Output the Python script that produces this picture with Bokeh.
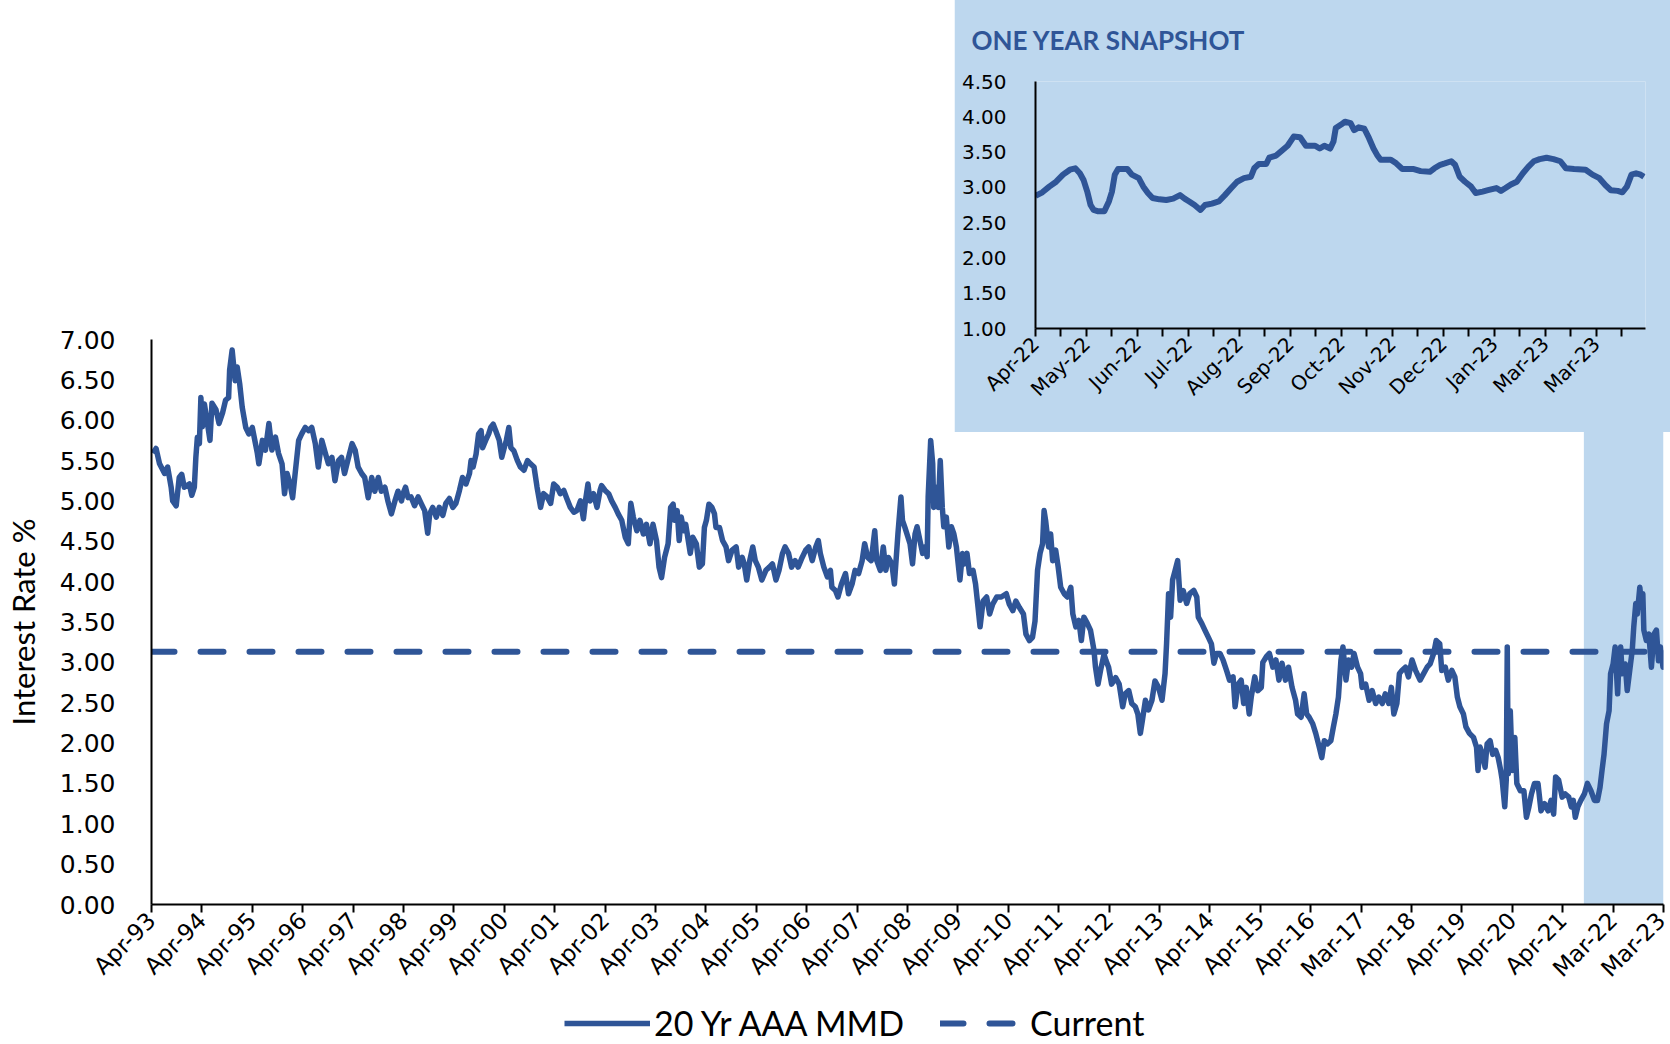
import math
from bokeh.plotting import figure
from bokeh.models import FixedTicker, NumeralTickFormatter, Legend, LegendItem
from bokeh.embed import file_html
from bokeh.resources import INLINE

LINE = "#2F5597"
FILL = "#BDD7EE"

# ---------------- data: 20 Yr AAA MMD (x = years since Apr-93) ----------------
years = [
    0.03, 0.09, 0.16, 0.26, 0.32, 0.39, 0.42, 0.49, 0.55, 0.60, 0.65, 0.75, 0.80, 0.85, 0.88, 0.91, 0.95, 0.98,
    1.01, 1.05, 1.11, 1.16, 1.20, 1.28, 1.34, 1.41, 1.47, 1.53, 1.55, 1.60, 1.66, 1.70, 1.75, 1.80, 1.87, 1.93,
    2.00, 2.05, 2.10, 2.13, 2.20, 2.26, 2.33, 2.39, 2.46, 2.52, 2.59, 2.64, 2.69, 2.75, 2.80, 2.85, 2.92, 2.98,
    3.05, 3.12, 3.18, 3.25, 3.31, 3.38, 3.45, 3.51, 3.58, 3.64, 3.71, 3.77, 3.83, 3.91, 3.98,
    4.04, 4.10, 4.17, 4.23, 4.30, 4.37, 4.43, 4.50, 4.56, 4.63, 4.69, 4.76, 4.83, 4.89, 4.96,
    4.99, 5.04, 5.09, 5.15, 5.22, 5.29, 5.35, 5.42, 5.48, 5.52, 5.58, 5.65, 5.71, 5.78, 5.84, 5.91, 5.98,
    6.04, 6.11, 6.17, 6.24, 6.31, 6.34, 6.38, 6.44, 6.49, 6.54, 6.57, 6.63, 6.69, 6.73, 6.78, 6.83, 6.90, 6.95,
    7.00, 7.04, 7.09, 7.13, 7.19, 7.26, 7.32, 7.39, 7.46, 7.52, 7.59, 7.65, 7.72, 7.78, 7.85, 7.92, 7.98,
    8.05, 8.11, 8.18, 8.24, 8.31, 8.38, 8.44, 8.51, 8.57, 8.61, 8.66, 8.70, 8.77, 8.84, 8.90, 8.93,
    9.00, 9.07, 9.13, 9.20, 9.26, 9.33, 9.40, 9.46, 9.51, 9.56, 9.63, 9.69, 9.76, 9.82, 9.89, 9.95,
    10.02, 10.07, 10.12, 10.18, 10.25, 10.30, 10.35, 10.38, 10.43, 10.47, 10.51, 10.56, 10.60, 10.64, 10.69,
    10.74, 10.81, 10.87, 10.93, 10.97, 11.01, 11.06, 11.12, 11.17, 11.20, 11.27, 11.33, 11.40, 11.45, 11.52,
    11.60, 11.65, 11.72, 11.76, 11.81, 11.87, 11.93, 11.98, 12.04, 12.11, 12.19, 12.26, 12.32, 12.39, 12.45,
    12.52, 12.57, 12.64, 12.70, 12.77, 12.83, 12.91, 12.98, 13.04, 13.11, 13.18, 13.23, 13.27, 13.34, 13.41,
    13.47, 13.50, 13.57, 13.62, 13.69, 13.77, 13.83, 13.90, 13.96, 14.03, 14.10, 14.15, 14.21, 14.28, 14.35,
    14.39, 14.46, 14.52, 14.57, 14.62, 14.69, 14.74, 14.81, 14.87, 14.90, 14.95,
    15.05, 15.10, 15.15, 15.19, 15.25, 15.30, 15.35, 15.39, 15.41, 15.46, 15.50, 15.52, 15.58, 15.61, 15.65,
    15.69, 15.72, 15.77, 15.82, 15.87, 15.92, 15.97, 16.04, 16.09, 16.13, 16.18, 16.23, 16.30, 16.35, 16.40,
    16.44, 16.50, 16.57, 16.63, 16.69, 16.77, 16.86, 16.96, 17.02, 17.09, 17.15, 17.22, 17.30, 17.35, 17.42,
    17.48, 17.53, 17.58, 17.63, 17.68, 17.71, 17.74, 17.80, 17.84, 17.88, 17.94, 17.99, 18.04, 18.11, 18.17,
    18.24, 18.28, 18.34, 18.40, 18.45, 18.50, 18.57, 18.63, 18.70, 18.73, 18.78, 18.83, 18.90, 18.94, 18.99,
    19.05, 19.13, 19.20, 19.27, 19.32, 19.39, 19.45, 19.52, 19.57, 19.62, 19.66, 19.72, 19.78, 19.85, 19.91,
    19.98, 20.05, 20.11, 20.14, 20.18, 20.22, 20.26, 20.31, 20.36, 20.41, 20.47, 20.54, 20.60, 20.68, 20.74,
    20.77, 20.84, 20.90, 20.97, 21.03, 21.08, 21.13, 21.20, 21.26, 21.33, 21.39, 21.46, 21.50, 21.56, 21.62,
    21.67, 21.72, 21.78, 21.82, 21.89, 21.95, 22.02, 22.05, 22.12, 22.18, 22.25, 22.31, 22.37, 22.43, 22.50,
    22.56, 22.63, 22.70, 22.74, 22.81, 22.87, 22.92, 22.97, 23.04, 23.10, 23.17, 23.22, 23.27, 23.33, 23.40,
    23.45, 23.50, 23.55, 23.60, 23.64, 23.70, 23.75, 23.81, 23.86, 23.93, 23.99, 24.02, 24.09, 24.16, 24.22,
    24.29, 24.35, 24.42, 24.48, 24.55, 24.60, 24.65, 24.71, 24.76, 24.81, 24.88, 24.94, 25.01, 25.08,
    25.17, 25.24, 25.31, 25.37, 25.44, 25.49, 25.56, 25.60, 25.67, 25.73, 25.80, 25.86, 25.91, 25.96, 26.03,
    26.08, 26.15, 26.23, 26.29, 26.32, 26.36, 26.41, 26.46, 26.50, 26.56, 26.61, 26.67, 26.72, 26.77, 26.80,
    26.85, 26.88, 26.90, 26.92, 26.96, 27.00, 27.05, 27.09, 27.16, 27.23, 27.28, 27.33, 27.38, 27.44, 27.51,
    27.57, 27.64, 27.71, 27.77, 27.82, 27.86, 27.92, 27.99, 28.05, 28.12, 28.17, 28.21, 28.25, 28.30, 28.36,
    28.43, 28.49, 28.56, 28.63, 28.69, 28.74, 28.78, 28.82, 28.87, 28.92, 28.95, 29.00, 29.04, 29.09, 29.12,
    29.15, 29.18, 29.24, 29.28, 29.33, 29.38, 29.41, 29.45, 29.48, 29.53, 29.57, 29.59, 29.61, 29.66, 29.71,
    29.76, 29.81, 29.86, 29.90, 29.94, 29.99, 30.00,
]
rates = [
    5.59, 5.65, 5.46, 5.34, 5.42, 5.17, 5.00, 4.94, 5.29, 5.33, 5.17, 5.21, 5.07, 5.17, 5.54, 5.79, 5.71, 6.28,
    5.92, 6.20, 5.96, 5.75, 6.21, 6.13, 5.96, 6.09, 6.25, 6.28, 6.62, 6.87, 6.49, 6.66, 6.45, 6.16, 5.91, 5.83,
    5.91, 5.75, 5.59, 5.46, 5.75, 5.63, 5.96, 5.63, 5.79, 5.59, 5.46, 5.09, 5.34, 5.21, 5.04, 5.34, 5.75, 5.83,
    5.91, 5.87, 5.91, 5.71, 5.42, 5.75, 5.59, 5.46, 5.54, 5.25, 5.50, 5.54, 5.34, 5.54, 5.71,
    5.63, 5.42, 5.34, 5.29, 5.04, 5.29, 5.12, 5.29, 5.12, 5.17, 5.00, 4.84, 5.00, 5.12, 5.00,
    5.09, 5.17, 5.04, 5.05, 4.94, 5.05, 4.97, 4.88, 4.60, 4.84, 4.92, 4.80, 4.92, 4.82, 4.97, 5.03, 4.92,
    4.97, 5.13, 5.29, 5.21, 5.34, 5.50, 5.42, 5.58, 5.83, 5.87, 5.66, 5.75, 5.83, 5.91, 5.95, 5.87, 5.75, 5.54,
    5.66, 5.75, 5.91, 5.66, 5.62, 5.50, 5.42, 5.38, 5.50, 5.46, 5.42, 5.17, 4.92, 5.09, 5.05, 4.97, 5.21,
    5.17, 5.09, 5.13, 5.03, 4.92, 4.86, 4.88, 5.00, 4.78, 5.00, 5.21, 5.00, 5.09, 4.92, 5.13, 5.19,
    5.13, 5.09, 5.00, 4.92, 4.84, 4.76, 4.55, 4.47, 4.97, 4.80, 4.63, 4.76, 4.59, 4.71, 4.47, 4.71,
    4.51, 4.18, 4.05, 4.30, 4.47, 4.92, 4.96, 4.76, 4.88, 4.51, 4.80, 4.63, 4.71, 4.55, 4.35,
    4.55, 4.47, 4.18, 4.22, 4.67, 4.76, 4.96, 4.92, 4.84, 4.67, 4.67, 4.51, 4.43, 4.26, 4.39,
    4.43, 4.18, 4.30, 4.22, 4.02, 4.26, 4.43, 4.26, 4.18, 4.02, 4.14, 4.18, 4.22, 4.02, 4.14,
    4.35, 4.43, 4.35, 4.18, 4.26, 4.18, 4.30, 4.39, 4.43, 4.26, 4.43, 4.51, 4.35, 4.18, 4.06,
    4.14, 3.93, 3.89, 3.81, 3.97, 4.10, 3.85, 3.97, 4.14, 4.10, 4.26, 4.47, 4.30, 4.26, 4.63,
    4.26, 4.14, 4.43, 4.14, 4.30, 4.22, 3.97, 4.59, 5.05, 4.76, 4.67,
    4.47, 4.22, 4.59, 4.68, 4.50, 4.35, 4.43, 4.31, 5.05, 5.75, 5.46, 4.92, 5.17, 4.92, 5.50,
    4.92, 4.68, 4.80, 4.43, 4.68, 4.59, 4.43, 4.02, 4.35, 4.22, 4.35, 4.10, 4.14, 3.97, 3.68,
    3.44, 3.76, 3.81, 3.60, 3.72, 3.81, 3.81, 3.85, 3.72, 3.64, 3.76, 3.68, 3.60, 3.35, 3.27,
    3.31, 3.51, 4.14, 4.35, 4.47, 4.88, 4.76, 4.43, 4.59, 4.26, 4.39, 4.18, 3.93, 3.85, 3.81,
    3.93, 3.60, 3.44, 3.52, 3.27, 3.56, 3.48, 3.40, 3.15, 2.94, 2.73, 2.90, 3.10, 3.02, 2.94,
    2.73, 2.81, 2.73, 2.45, 2.61, 2.65, 2.49, 2.45, 2.36, 2.12, 2.28, 2.53, 2.41, 2.53, 2.77,
    2.69, 2.53, 2.86, 3.23, 3.85, 3.56, 4.02, 4.14, 4.26, 3.77, 3.89, 3.73, 3.85, 3.89, 3.81,
    3.56, 3.48, 3.40, 3.31, 3.23, 2.99, 3.11, 3.11, 3.03, 2.90, 2.78, 2.82, 2.45, 2.73, 2.78,
    2.49, 2.69, 2.36, 2.57, 2.82, 2.65, 2.69, 3.00, 3.07, 3.11, 2.94, 3.03, 2.78, 2.99, 2.78,
    2.94, 2.69, 2.53, 2.36, 2.32, 2.61, 2.36, 2.32, 2.24, 2.12, 1.95, 1.82, 2.03, 1.99, 2.03,
    2.20, 2.36, 2.57, 3.03, 3.19, 2.78, 3.03, 2.94, 3.11, 2.94, 2.86, 2.69, 2.73, 2.53, 2.65,
    2.49, 2.57, 2.49, 2.61, 2.49, 2.69, 2.36, 2.49, 2.86, 2.90, 2.94, 2.82, 3.03, 2.90,
    2.78, 2.86, 2.94, 2.98, 3.11, 3.27, 3.23, 2.90, 2.94, 2.78, 2.90, 2.82, 2.57, 2.45, 2.36,
    2.20, 2.12, 2.07, 1.95, 1.66, 1.95, 1.86, 1.70, 1.99, 2.03, 1.86, 1.91, 1.82, 1.66, 1.54,
    1.21, 1.54, 3.19, 1.62, 2.40, 1.66, 2.07, 1.50, 1.41, 1.41, 1.08, 1.21, 1.37, 1.50, 1.50,
    1.16, 1.25, 1.16, 1.29, 1.12, 1.58, 1.54, 1.33, 1.37, 1.33, 1.21, 1.29, 1.08, 1.21, 1.29,
    1.37, 1.50, 1.41, 1.29, 1.29, 1.45, 1.66, 1.86, 2.24, 2.40, 2.86, 2.98, 3.19, 2.61, 3.07,
    3.19, 2.86, 2.98, 2.65, 2.90, 3.15, 3.44, 3.73, 3.60, 3.93, 3.68, 3.85, 3.40, 3.27, 3.35,
    2.94, 3.35, 3.40, 3.02, 3.19, 2.94, 3.15,
]
current_rate = 3.13
year_labels = ["Apr-93", "Apr-94", "Apr-95", "Apr-96", "Apr-97", "Apr-98", "Apr-99", "Apr-00", "Apr-01",
               "Apr-02", "Apr-03", "Apr-04", "Apr-05", "Apr-06", "Apr-07", "Apr-08", "Apr-09", "Apr-10",
               "Apr-11", "Apr-12", "Apr-13", "Apr-14", "Apr-15", "Apr-16", "Mar-17", "Apr-18", "Apr-19",
               "Apr-20", "Apr-21", "Mar-22", "Mar-23"]
snapshot_start = 28.42
rate_ticks = [i * 0.5 for i in range(15)]
series_names = ["20 Yr AAA MMD", "Current"]

# ---------------- data: one year snapshot (x = tick index) ----------------
snap_x = [0, 0.27, 0.54, 0.81, 1.08, 1.35, 1.56, 1.74, 1.89, 2.03, 2.16, 2.28, 2.46, 2.70, 2.88, 3.00, 3.11,
          3.24, 3.60, 3.78, 4.05, 4.23, 4.41, 4.59, 4.86, 5.13, 5.40, 5.67, 5.85, 6.03, 6.24, 6.47, 6.65,
          6.92, 7.19, 7.43, 7.68, 7.91, 8.18, 8.45, 8.58, 8.76, 9.05, 9.17, 9.44, 9.66, 9.89, 10.13, 10.38,
          10.61, 10.97, 11.15, 11.33, 11.56, 11.69, 11.78, 11.99, 12.14, 12.36, 12.50, 12.68, 12.90, 13.08,
          13.26, 13.40, 13.54, 13.94, 14.15, 14.39, 14.84, 15.11, 15.47, 15.65, 15.88, 16.06, 16.31, 16.46,
          16.64, 16.85, 17.09, 17.27, 17.54, 17.75, 18.08, 18.26, 18.44, 18.65, 18.88, 19.12, 19.33, 19.55,
          19.78, 20.05, 20.32, 20.59, 20.81, 21.13, 21.58, 21.85, 22.12, 22.36, 22.57, 22.84, 23.02, 23.20,
          23.38, 23.56, 23.74, 23.87]
snap_rates = [2.88, 2.93, 3.01, 3.08, 3.18, 3.25, 3.27, 3.20, 3.10, 2.94, 2.75, 2.68, 2.66, 2.66, 2.80, 2.94, 3.18,
              3.26, 3.26, 3.18, 3.13, 3.01, 2.92, 2.85, 2.83, 2.82, 2.84, 2.89, 2.84, 2.80, 2.75, 2.68, 2.75,
              2.77, 2.80, 2.89, 2.99, 3.08, 3.13, 3.15, 3.27, 3.33, 3.33, 3.42, 3.45, 3.52, 3.59, 3.72, 3.71,
              3.59, 3.59, 3.55, 3.59, 3.55, 3.65, 3.84, 3.89, 3.93, 3.91, 3.81, 3.85, 3.83, 3.70,
              3.55, 3.46, 3.39, 3.39, 3.34, 3.26, 3.26, 3.23, 3.22, 3.27, 3.32, 3.34, 3.37, 3.32,
              3.15, 3.08, 3.01, 2.92, 2.94, 2.96, 2.99, 2.95, 2.99, 3.04, 3.08, 3.20, 3.29, 3.37,
              3.40, 3.42, 3.40, 3.37, 3.27, 3.26, 3.25, 3.18, 3.13, 3.03, 2.96, 2.95, 2.93, 3.01,
              3.18, 3.20, 3.18, 3.15]
snap_labels = ["Apr-22", "May-22", "Jun-22", "Jul-22", "Aug-22", "Sep-22", "Oct-22", "Nov-22", "Dec-22",
               "Jan-23", "Mar-23", "Mar-23"]
snap_tick_count = 24
snap_rate_ticks = [1.0 + i * 0.5 for i in range(8)]

TICK_FONT = "DejaVu Sans"
TEXT_FONT = "Lato"
SOLID = dict(line_color=LINE, line_width=5.5, line_join="round")
DASHED = dict(line_color=LINE, line_width=6, line_dash="23 26", line_cap="round")

# ---------------- main chart ----------------
x_end = len(year_labels) - 1
main = figure(width=1670, height=1044, x_range=(0, x_end), y_range=(0, 7),
              output_backend="svg", toolbar_location=None,
              min_border_left=142, min_border_right=7, min_border_top=339, min_border_bottom=140)
main.outline_line_color = None
main.xgrid.visible = False
main.ygrid.visible = False
main.background_fill_color = "white"
main.border_fill_color = "white"

main.quad(left=[snapshot_start], right=[x_end], bottom=[0], top=[7], fill_color=FILL, line_color=None)
main.line(years, rates, **SOLID)
main.line([0, x_end], [current_rate, current_rate], **DASHED)

xa = main.xaxis[0]
xa.ticker = FixedTicker(ticks=list(range(len(year_labels))))
xa.major_label_overrides = {i: lab for i, lab in enumerate(year_labels)}
xa.major_label_orientation = math.pi / 4
xa.major_label_text_font = TICK_FONT
xa.major_label_text_font_size = "23px"
xa.major_label_text_color = "black"
xa.major_tick_out = 8
xa.major_tick_in = 0
xa.minor_tick_line_color = None
xa.axis_line_width = 2
xa.major_tick_line_width = 2
xa.axis_line_color = "black"
xa.major_tick_line_color = "black"
xa.major_label_standoff = 4

ya = main.yaxis[0]
ya.ticker = FixedTicker(ticks=rate_ticks)
ya.formatter = NumeralTickFormatter(format="0.00")
ya.major_label_text_font = TICK_FONT
ya.major_label_text_font_size = "25px"
ya.major_label_text_color = "black"
ya.major_tick_line_color = None
ya.minor_tick_line_color = None
ya.axis_line_width = 2
ya.axis_line_color = "black"
ya.major_label_standoff = 30
ya.axis_label = "Interest Rate %"
ya.axis_label_text_font = TEXT_FONT
ya.axis_label_text_font_style = "normal"
ya.axis_label_text_font_size = "31px"
ya.axis_label_text_color = "black"
ya.axis_label_standoff = 15

# ---------------- legend strip (below the main chart) ----------------
# the same two series are drawn here outside the visible range; only their legend entries show
leg = figure(width=640, height=44, x_range=(0, x_end), y_range=(-2, -1),
             output_backend="svg", toolbar_location=None,
             x_axis_location=None, y_axis_location=None, min_border=0)
leg.outline_line_color = None
leg.xgrid.visible = False
leg.ygrid.visible = False
leg.background_fill_alpha = 0
leg.border_fill_alpha = 0
p_solid = leg.line(years, rates, **SOLID)
p_dash = leg.line([0, x_end], [current_rate, current_rate], **DASHED)
legend = Legend(items=[LegendItem(label=series_names[0], renderers=[p_solid]),
                       LegendItem(label=series_names[1], renderers=[p_dash])],
                location=(0, 1), orientation="horizontal",
                label_text_font=TEXT_FONT, label_text_font_size="34px", label_text_color="black",
                glyph_width=86, glyph_height=34, label_standoff=4, spacing=36,
                padding=0, margin=0, border_line_color=None, background_fill_alpha=0)
leg.add_layout(legend)
leg.styles = {"position": "absolute", "left": "564px", "top": "1000px", "z-index": "5"}

# ---------------- inset: one year snapshot ----------------
inset = figure(width=716, height=437, x_range=(0, snap_tick_count - 0.07), y_range=(1, 4.5),
               output_backend="svg", toolbar_location=None,
               min_border_left=81, min_border_right=25, min_border_top=86, min_border_bottom=104,
               background_fill_color=FILL, border_fill_color=FILL)
inset.outline_line_color = None
inset.xgrid.visible = False
inset.ygrid.visible = False
inset.line(snap_x, snap_rates, line_color=LINE, line_width=6, line_join="round")

inset.title.text = "ONE YEAR SNAPSHOT"
inset.title.align = "left"
inset.title.offset = -64
inset.title.standoff = 48
inset.title.vertical_align = "top"
inset.title.text_font = TEXT_FONT
inset.title.text_font_style = "bold"
inset.title.text_font_size = "26px"
inset.title.text_color = LINE

ixa = inset.xaxis[0]
ixa.ticker = FixedTicker(ticks=list(range(snap_tick_count)))
ixa.major_label_overrides = {i: (snap_labels[i // 2] if i % 2 == 0 else "") for i in range(snap_tick_count)}
ixa.major_label_orientation = math.pi / 4
ixa.major_label_text_font = TICK_FONT
ixa.major_label_text_font_size = "20px"
ixa.major_label_text_color = "black"
ixa.major_tick_out = 8
ixa.major_tick_in = 0
ixa.minor_tick_line_color = None
ixa.axis_line_width = 2
ixa.major_tick_line_width = 2
ixa.axis_line_color = "black"
ixa.major_tick_line_color = "black"
ixa.major_label_standoff = 4

iya = inset.yaxis[0]
iya.ticker = FixedTicker(ticks=snap_rate_ticks)
iya.formatter = NumeralTickFormatter(format="0.00")
iya.major_label_text_font = TICK_FONT
iya.major_label_text_font_size = "20px"
iya.major_label_text_color = "black"
iya.major_tick_line_color = None
iya.minor_tick_line_color = None
iya.axis_line_width = 2
iya.axis_line_color = "black"
iya.major_label_standoff = 23

# place the inset over the top-right corner of the page (its top 10px lie above the page edge)
inset.styles = {"position": "absolute", "left": "954px", "top": "-5px", "z-index": "10"}

open("out.html", "w").write(file_html([main, inset, leg], INLINE))
